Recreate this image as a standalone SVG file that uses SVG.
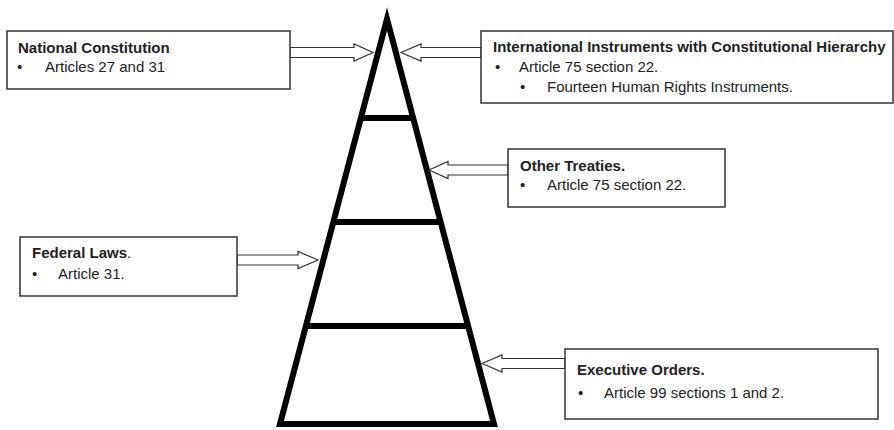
<svg xmlns="http://www.w3.org/2000/svg" width="894" height="430" viewBox="0 0 894 430">
<style>
.box{fill:#fff;stroke:#333;stroke-width:1.5}
.t{font-family:"Liberation Sans",Arial,sans-serif;font-size:15px;fill:#222}
.b{font-weight:bold}
.arr{fill:#fff;stroke:#333;stroke-width:1.2;stroke-linejoin:miter}
.pyr{fill:none;stroke:#000;stroke-width:6;stroke-linejoin:miter;stroke-miterlimit:10}
</style>
<rect width="894" height="430" fill="#fff"/>
<g id="pyramid">
<polygon class="pyr" points="387,19 280,424 494,424"/>
<line class="pyr" x1="361" y1="118" x2="413" y2="118"/>
<line class="pyr" x1="333" y1="222" x2="441" y2="222"/>
<line class="pyr" x1="306" y1="326" x2="468" y2="326"/>
</g>
<g id="connectors">
<polygon class="arr" points="290,47.5 354,47.5 354,44 373,52.5 354,61 354,57.5 290,57.5"/>
<polygon class="arr" points="481,47.5 421,47.5 421,44 401,52.5 421,61 421,57.5 481,57.5"/>
<polygon class="arr" points="508,165 448,165 448,161.5 429,170 448,178.5 448,175 508,175"/>
<polygon class="arr" points="237,255 298,255 298,251.5 318,260 298,268.5 298,265 237,265"/>
<polygon class="arr" points="565,358.5 502,358.5 502,355 482,363.5 502,372 502,368.5 565,368.5"/>
</g>
<g id="national-constitution">
<rect class="box" x="7" y="31" width="283" height="58"/>
<text class="t b" x="18" y="53">National Constitution</text>
<text class="t" x="17" y="72">•</text>
<text class="t" x="45" y="72">Articles 27 and 31</text>
</g>
<g id="international-instruments">
<rect class="box" x="481" y="31" width="412" height="72"/>
<text class="t b" x="493" y="52">International Instruments with Constitutional Hierarchy</text>
<text class="t" x="495" y="72">•</text>
<text class="t" x="519" y="72">Article 75 section 22.</text>
<text class="t" x="520" y="92">•</text>
<text class="t" x="547" y="92">Fourteen Human Rights Instruments.</text>
</g>
<g id="other-treaties">
<rect class="box" x="508" y="149" width="217" height="58"/>
<text class="t b" x="520" y="171">Other Treaties.</text>
<text class="t" x="520" y="190">•</text>
<text class="t" x="547" y="190">Article 75 section 22.</text>
</g>
<g id="federal-laws">
<rect class="box" x="20" y="237" width="217" height="59"/>
<text class="t" x="32" y="258"><tspan class="b">Federal Laws</tspan>.</text>
<text class="t" x="32" y="279">•</text>
<text class="t" x="58" y="279">Article 31.</text>
</g>
<g id="executive-orders">
<rect class="box" x="565" y="349" width="313" height="70"/>
<text class="t b" x="577" y="375">Executive Orders.</text>
<text class="t" x="578" y="398">•</text>
<text class="t" x="604" y="398">Article 99 sections 1 and 2.</text>
</g>
</svg>
